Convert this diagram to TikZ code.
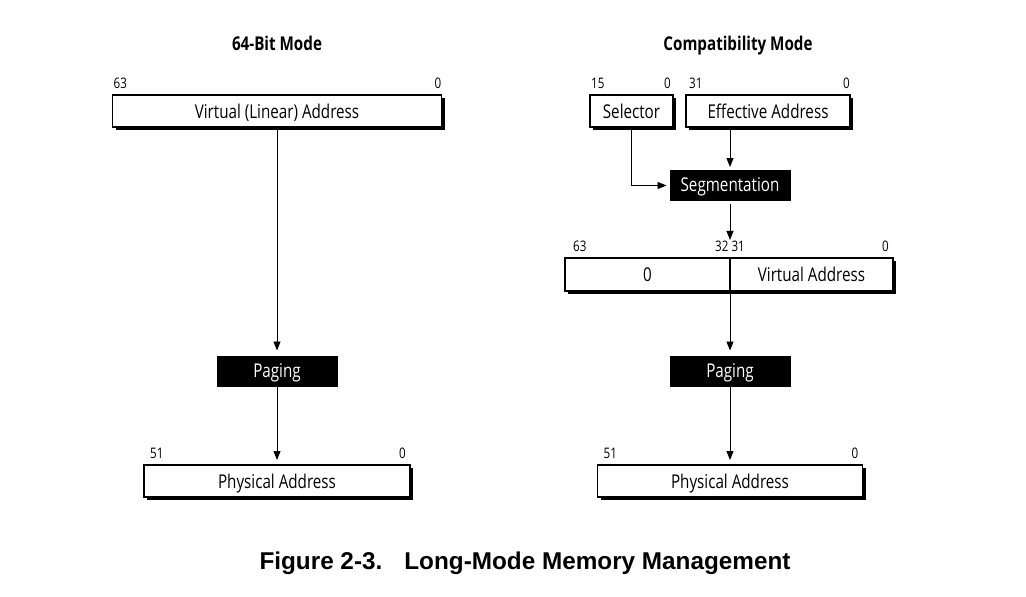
\documentclass[tikz,border=0pt]{standalone}
\usepackage{fontspec}
\setmainfont[FakeStretch=0.8]{Open Sans}
\newfontfamily\captionfont{Liberation Sans}
\usetikzlibrary{arrows.meta, positioning, shadows}

\tikzset{
  addr/.style={draw, line width=1.2pt, fill=white, minimum height=32pt, inner sep=0pt, outer sep=0pt,
    font=\fontsize{19}{21}\selectfont, text height=15pt, text depth=1pt,
    general shadow={fill=black, shadow xshift=3pt, shadow yshift=-3pt}},
  unit/.style={fill=black, text=white, minimum height=31pt, minimum width=121pt, inner sep=0pt, outer sep=0pt,
    font=\fontsize{19}{21}\selectfont, text height=15pt, text depth=3pt},
  bitnum/.style={inner sep=0pt, font=\fontsize{14.5}{17}\selectfont},
  heading/.style={anchor=base, font=\fontsize{19}{21}\selectfont\bfseries},
  flow/.style={line width=0.9pt, shorten >=3pt, -{Triangle[length=9pt,width=7pt]}}
}

\begin{document}
\begin{tikzpicture}[x=1pt, y=-1pt]
\useasboundingbox (0,0) rectangle (1026,597);

% 64-bit mode
\node[heading] (head64) at (277,50) {64-Bit Mode};
\node[addr, minimum width=329pt] (linaddr) at (277,111) {Virtual (Linear) Address};
\node[bitnum, above right=6pt and 1pt of linaddr.north west] {63};
\node[bitnum, above left=6pt and 0pt of linaddr.north east] {0};
\node[unit] (paging64) at (277,371) {Paging};
\node[addr, minimum width=266pt] (phys64) at (277,481) {Physical Address};
\node[bitnum, above right=6pt and 6pt of phys64.north west] {51};
\node[bitnum, above left=6pt and 4pt of phys64.north east] {0};

\draw[flow, shorten >=5pt] (linaddr.south) -- (paging64.north);
\draw[flow, shorten >=5pt] (paging64.south) -- (phys64.north);

% compatibility mode
\node[heading] (headcm) at (738,50) {Compatibility Mode};
\node[addr, minimum width=83pt] (selector) at (631.5,111) {Selector};
\node[bitnum, above right=6pt and 1pt of selector.north west] {15};
\node[bitnum, above left=6pt and 2pt of selector.north east] {0};
\node[addr, minimum width=164pt] (effaddr) at (768,111) {Effective Address};
\node[bitnum, above right=6pt and 3pt of effaddr.north west] {31};
\node[bitnum, above left=6pt and 0pt of effaddr.north east] {0};
\node[unit] (segment) at (730,185.5) {Segmentation};

\node[addr, minimum width=165pt, minimum height=33pt] (upper) at (647.5,274.5) {0};
\node[addr, minimum width=163pt, minimum height=33pt, right=0pt of upper] (virtaddr) {Virtual Address};
\node[bitnum, above right=6pt and 8pt of upper.north west] {63};
\node[bitnum, above=6pt of upper.north east] (bits32) {32 31};
\node[bitnum, above left=6pt and 4pt of virtaddr.north east] {0};

\node[unit] (pagingcm) at (730,371) {Paging};
\node[addr, minimum width=265pt] (physcm) at (730,481) {Physical Address};
\node[bitnum, above right=6pt and 6pt of physcm.north west] {51};
\node[bitnum, above left=6pt and 4pt of physcm.north east] {0};

\draw[flow] (selector.south) |- (segment.west);
\draw[flow] (segment.north |- effaddr.south) -- (segment.north);
\draw[flow, shorten <=3pt, shorten >=1pt] (segment.south) -- (bits32.north);
\draw[flow, shorten >=5pt] (upper.south east) -- (pagingcm.north);
\draw[flow, shorten >=5pt] (pagingcm.south) -- (physcm.north);

\node[font=\captionfont\bfseries\fontsize{24.3}{26}\selectfont] (caption) at (525,563)
  {Figure 2-3.\hspace{22pt}Long-Mode Memory Management};
\end{tikzpicture}
\end{document}
